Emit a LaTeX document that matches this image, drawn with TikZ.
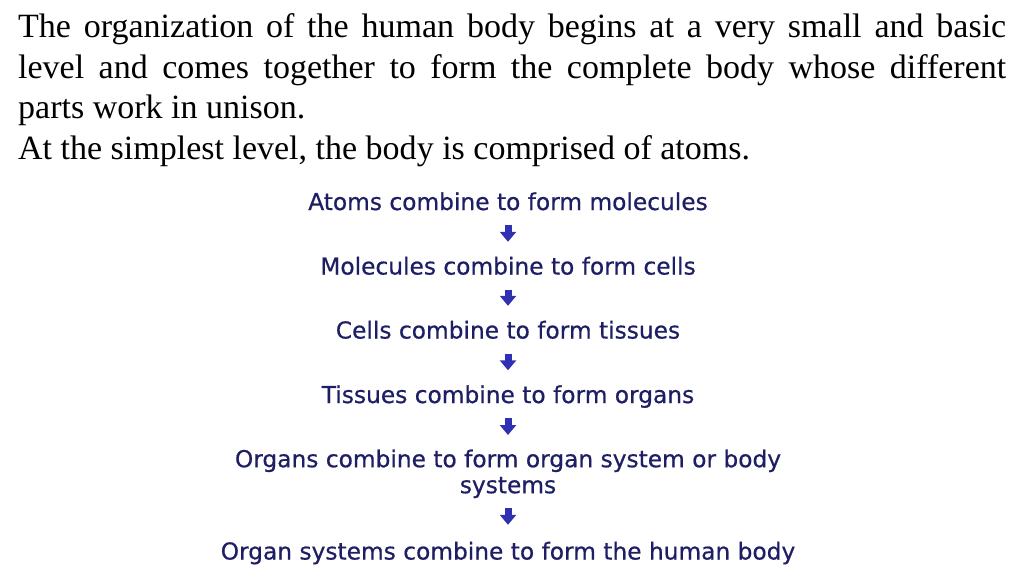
\documentclass[tikz,border=0pt]{standalone}
\usepackage{fontspec}
\setmainfont{Liberation Serif}
\newfontfamily\flowfont[FakeBold=0.6]{DejaVu Sans}
\usepackage{xcolor}
\usepackage{tikz}
\usetikzlibrary{arrows.meta,positioning}

\definecolor{flownavy}{RGB}{30,30,100}
\definecolor{flowblue}{RGB}{48,48,178}

\begin{document}
\begin{tikzpicture}[
    x=1pt, y=-1pt,
    para/.style={anchor=north west, inner sep=0pt, text width=988pt, align=justify,
                 font=\fontsize{34}{40.5}\selectfont},
    lvl/.style={anchor=base, inner sep=0pt, align=center, text=flownavy,
                text height=17pt, text depth=5pt,
                font=\flowfont\fontsize{23.3}{26}\selectfont},
    lvltwo/.style={lvl, anchor=north, text height=, text depth=},
    blk/.style={-{Triangle[width=16pt,length=10pt]}, line width=7pt, flowblue,
                shorten <=10pt, shorten >=15.5pt}
  ]
  \useasboundingbox (0,0) rectangle (1024,576);

  % Intro paragraph
  \node[para] (intro) at (18, 13.8)
    {\noindent\hyphenpenalty=10000\relax
     The organization of the human body begins at a very small and basic\linebreak
     level and comes together to form the complete body whose different\linebreak
     parts work in unison.\\
     At the simplest level, the body is comprised of atoms.};

  % Levels of organization
  \node[lvl] (atoms) at (508, 210) {Atoms combine to form molecules};
  \node[lvl] (molec) at (508, 274.5) {Molecules combine to form cells};
  \node[lvl] (cells) at (508, 338.5) {Cells combine to form tissues};
  \node[lvl] (tiss)  at (508, 403) {Tissues combine to form organs};
  \node[lvltwo] (orgs) at (508, 449.3) {Organs combine to form organ system or body\\systems};
  \node[lvl] (body)  at (508, 559.5) {Organ systems combine to form the human body};

  \draw[blk] (atoms.south) -- (molec.north);
  \draw[blk] (molec.south) -- (cells.north);
  \draw[blk] (cells.south) -- (tiss.north);
  \draw[blk, shorten >=14.3pt] (tiss.south) -- (orgs.north);
  \draw[blk, shorten <=9.5pt, shorten >=17.5pt] (orgs.south) -- (body.north);

\end{tikzpicture}
\end{document}
